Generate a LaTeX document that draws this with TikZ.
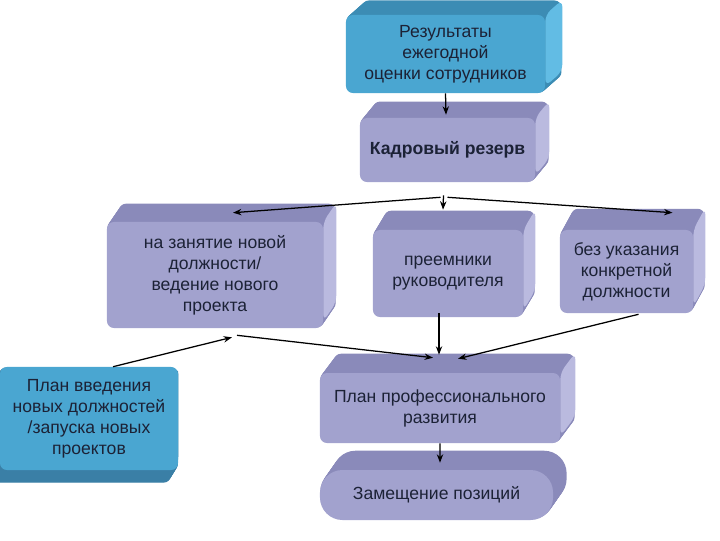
\documentclass[tikz,border=0pt]{standalone}
\usepackage{fontspec}
\setmainfont{Liberation Sans}
\usepackage{xcolor}
\usepackage{tikz}
\usetikzlibrary{arrows.meta,calc,backgrounds}
\definecolor{skyfront}{HTML}{4AA6D1}
\definecolor{skytop}{HTML}{3C8CB4}
\definecolor{skyside}{HTML}{62BCE4}
\definecolor{skybottom}{HTML}{3A7FA6}
\definecolor{lilacfront}{HTML}{A2A2CE}
\definecolor{lilactop}{HTML}{8A8ABA}
\definecolor{lilacside}{HTML}{BABADF}
\definecolor{inktext}{HTML}{1C2236}

% depth of a block: node, dx, dy, face colour, side colour, corner radius
\newcommand{\extrude}[6]{%
  \begin{scope}[on background layer]
    \foreach \t in {0.05,0.1,...,1.0}
      \fill[#4, rounded corners=#6] ($(#1.north west)+\t*(#2,#3)$) rectangle ($(#1.south east)+\t*(#2,#3)$);
    \fill[#5, rounded corners=#6] (#1.north east) -- ($(#1.north east)+(#2,#3)$)
      -- ($(#1.south east)+(#2,#3)+(0pt,#6)$) -- ($(#1.south east)+(0pt,#6)$) -- cycle;
  \end{scope}}

\begin{document}
\begin{tikzpicture}[x=0.025cm, y=-0.025cm,
    blockbox/.style={rounded corners=5pt, inner sep=2pt, align=center, text=inktext,
      font=\fontsize{12.5}{15}\selectfont},
    skybox/.style={blockbox, fill=skyfront},
    lilacbox/.style={blockbox, fill=lilacfront},
    noface/.style={fill opacity=0},
    link/.style={-{Stealth[length=6pt,width=4.5pt]}, line width=0.9pt, black}]
  \useasboundingbox (0,0) rectangle (720,540);

  \node[skybox, minimum width=4.975cm, minimum height=1.95cm] (results) at (445.5,54)
    {Результаты\\ежегодной\\оценки сотрудников};
  \node[lilacbox, minimum width=4.375cm, minimum height=1.6cm,
    font=\fontsize{12.5}{15}\selectfont\bfseries] (reserve) at (447.5,150) {Кадровый резерв};
  \node[lilacbox, minimum width=5.4cm, minimum height=2.65cm] (newpost) at (215,275)
    {на занятие новой\\должности/\\ведение нового\\проекта};
  \node[lilacbox, minimum width=3.75cm, minimum height=2.175cm] (successor) at (448,273.5)
    {преемники\\руководителя};
  \node[lilacbox, minimum width=3.325cm, minimum height=2.075cm] (nopost) at (626.5,271.5)
    {без указания\\конкретной\\должности};
  \node[skybox, minimum width=4.45cm, minimum height=2.575cm] (launchplan) at (89,418.5)
    {План введения\\новых должностей\\/запуска новых\\проектов};
  \node[lilacbox, minimum width=6cm, minimum height=1.75cm] (devplan) at (440,408)
    {План профессионального\\развития};
  \node[lilacbox, minimum width=5.825cm, minimum height=1.25cm, rounded corners=16pt] (placement) at (436.5,495)
    {Замещение позиций};

  \extrude{results}{17}{-15}{skytop}{skyside}{5pt}
  \extrude{reserve}{14}{-17}{lilactop}{lilacside}{5pt}
  \extrude{newpost}{13}{-19}{lilactop}{lilacside}{5pt}
  \extrude{successor}{12}{-20}{lilactop}{lilacside}{5pt}
  \extrude{nopost}{12}{-22}{lilactop}{lilacside}{5pt}
  \extrude{launchplan}{-8}{13}{skybottom}{skybottom}{5pt}
  \extrude{devplan}{15}{-20}{lilactop}{lilacside}{5pt}
  \extrude{placement}{14}{-20}{lilactop}{noface}{16pt}

  \coordinate (fork) at ($(reserve.south)+(-4,13)$);
  \draw[link] (results.south) -- ($(reserve.north)+(-1.5,-3)$);
  \draw[link] ($(fork)+(-3,2)$) -- ($(newpost.north)+(18,-9)$);
  \draw[link] (fork) -- ($(successor.north)+(-5,-20)$);
  \draw[link] ($(fork)+(4,2)$) -- ($(nopost.north)+(46,-17)$);
  \draw[link] ($(launchplan.north)+(24,0)$) -- ($(newpost.south)+(17,9)$);
  \draw[link] ($(newpost.south)+(22,7)$) -- ($(devplan.north)+(-7,-15)$);
  \draw[link] ($(successor.south)+(-9,-4)$) -- ($(devplan.north)+(-1,-18)$);
  \draw[link] ($(nopost.south)+(12,1)$) -- ($(devplan.north)+(18,-14)$);
  \draw[link] (devplan.south) -- ($(placement.north)+(3.5,-7)$);
\end{tikzpicture}
\end{document}
